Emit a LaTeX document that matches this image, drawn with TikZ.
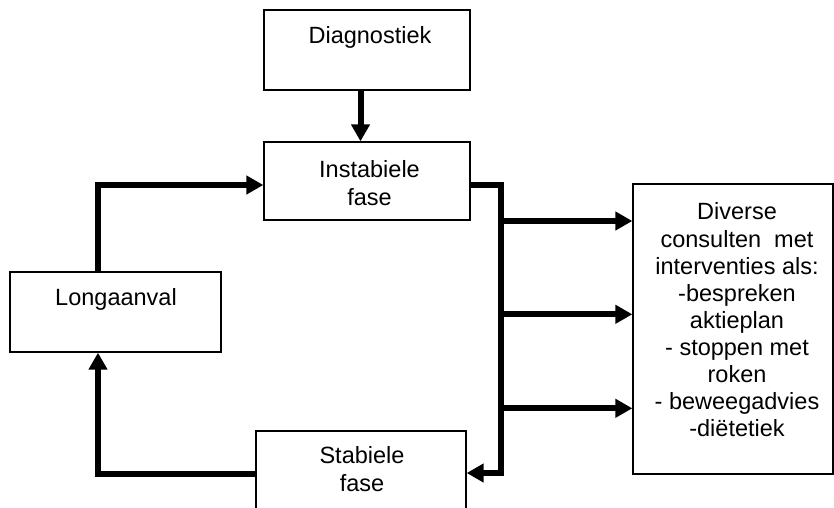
\documentclass[tikz,border=0pt]{standalone}
\usepackage{fontspec}
\setmainfont{Liberation Sans}
\usetikzlibrary{arrows.meta}
\begin{document}
\begin{tikzpicture}[x=1pt,y=-1pt,
  box/.style={draw, line width=1.3pt, inner sep=0pt},
  conn/.style={line width=6pt, -{Triangle[length=17pt,width=18pt]}},
  txt/.style={font=\fontsize{23.5}{27.1}\selectfont, align=center, inner sep=0pt, anchor=base}]
\useasboundingbox (0,0) rectangle (834,507);
\clip (0,0) rectangle (834,507);
\fill[white] (0,0) rectangle (834,507);
% boxes
\node[box, minimum width=206pt, minimum height=80pt] (diag) at (367,50) {};
\node[box, minimum width=206pt, minimum height=78pt] (inst) at (367,181) {};
\node[box, minimum width=211pt, minimum height=80pt] (long) at (115.5,312) {};
\node[box, minimum width=210pt, minimum height=99pt] (stab) at (361,480.5) {};
\node[box, minimum width=200pt, minimum height=290pt] (div) at (733,329) {};
% texts (anchor = baseline of last line)
\node[txt] (tdiag) at (370,43.3) {Diagnostiek};
\node[txt] (tinst) at (369.5,205) {Instabiele\\fase};
\node[txt] (tlong) at (116,305) {Longaanval};
\node[txt] (tstab) at (362,491) {Stabiele\\fase};
\node[txt] (tdiv) at (737,436.7) {Diverse\\consulten\ \ met\\interventies als:\\-bespreken\\aktieplan\\- stoppen met\\roken\\- beweegadvies\\-diëtetiek};
% connectors
\draw[conn] ([xshift=-6.5pt]diag.south) -- ([xshift=-6.5pt]inst.north);
\draw[conn] ([xshift=-17.5pt]long.north) |- ([yshift=-4pt]inst.west);
\draw[conn] ([yshift=6.5pt]stab.west) -| ([xshift=-17.5pt]long.south);
\draw[conn] ([yshift=-4pt]inst.east) -- ++(30,0) |- ([yshift=7.5pt]stab.east);
\coordinate (b1) at (500,221);
\coordinate (b2) at (500,314.3);
\coordinate (b3) at (500,408.3);
\draw[conn] (b1) -- ([yshift=108pt]div.west);
\draw[conn] (b2) -- ([yshift=14.7pt]div.west);
\draw[conn] (b3) -- ([yshift=-79.3pt]div.west);
\end{tikzpicture}
\end{document}
